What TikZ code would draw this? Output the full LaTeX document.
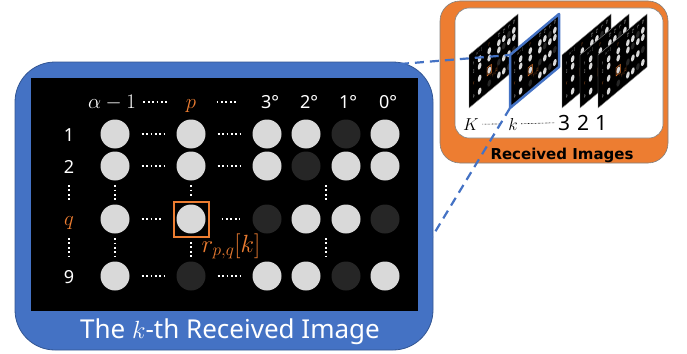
\documentclass[tikz,border=0pt]{standalone}
\usepackage{fontspec}
\setmainfont{Noto Sans}
\newfontfamily\lblfont{DejaVu Sans}
\usepackage{tikz}
\usetikzlibrary{calc}

\definecolor{kblue}{HTML}{4472C4}
\definecolor{accent}{HTML}{ED7D31}
\definecolor{dotlight}{HTML}{D9D9D9}
\definecolor{dotdark}{HTML}{262626}

% one received image, drawn in pixel coordinates of the large view
\newcommand{\gridcontent}{%
  \fill[bgrect] (31,78) rectangle (418,311);
  % column headers
  \node[mhdr] (h-a) at (112,108) {$\alpha-1$};
  \node[mhdr, text=accent] (h-p) at (191,108) {$p$};
  \node[hdr] (h-3) at (270,108) {3°};
  \node[hdr] (h-2) at (309,108) {2°};
  \node[hdr] (h-1) at (348,108) {1°};
  \node[hdr] (h-0) at (388,108) {0°};
  % row labels
  \node[hdr] (l-1) at (69,141) {1};
  \node[hdr] (l-2) at (69,173) {2};
  \node[mhdr, text=accent] (l-q) at (69,225) {$q$};
  \node[hdr] (l-9) at (69,283) {9};
  % LEDs
  \node[lit] (r1-a) at (115,134) {}; \node[lit] (r1-p) at (191,134) {};
  \node[lit] (r1-3) at (267,134) {}; \node[lit] (r1-2) at (306,134) {};
  \node[dim] (r1-1) at (346,134) {}; \node[lit] (r1-0) at (385,134) {};
  \node[lit] (r2-a) at (115,166) {}; \node[lit] (r2-p) at (191,166) {};
  \node[lit] (r2-3) at (267,166) {}; \node[dim] (r2-2) at (306,166) {};
  \node[lit] (r2-1) at (346,166) {}; \node[lit] (r2-0) at (385,166) {};
  \node[lit] (rq-a) at (115,219) {}; \node[lit] (rq-p) at (191,219) {};
  \node[dim] (rq-3) at (267,219) {}; \node[lit] (rq-2) at (306,219) {};
  \node[lit] (rq-1) at (346,219) {}; \node[dim] (rq-0) at (385,219) {};
  \node[lit] (r9-a) at (115,276) {}; \node[dim] (r9-p) at (191,276) {};
  \node[lit] (r9-3) at (267,276) {}; \node[lit] (r9-2) at (306,276) {};
  \node[dim] (r9-1) at (346,276) {}; \node[lit] (r9-0) at (385,276) {};
  \node[selbox] (sel) at (rq-p) {};
  \node[mhdr, text=accent, font=\fontsize{23}{26}\selectfont] (rpq) at (231,252) {$r_{p,q}[k]$};
  % ellipsis dots
  \draw[dotline, shorten <=4pt, shorten >=14pt] (h-a.east |- 0,102) -- (h-p.west |- 0,102);
  \draw[dotline, shorten <=17pt, shorten >=20pt] (h-p.east |- 0,102) -- (h-3.west |- 0,102);
  \draw[hdots] (r1-a) -- (r1-p); \draw[hdots] (r1-p) -- (r1-3);
  \draw[hdots] (r2-a) -- (r2-p); \draw[hdots] (r2-p) -- (r2-3);
  \draw[hdots] (rq-a) -- (sel);  \draw[hdots] (sel) -- (rq-3);
  \draw[hdots] (r9-a) -- (r9-p); \draw[hdots] (r9-p) -- (r9-3);
  \draw[vdots] (r2-a) -- (rq-a); \draw[vdots] (rq-a) -- (r9-a);
  \draw[vdots] (r2-p) -- (sel);  \draw[vdots] (sel) -- (r9-p);
  \draw[pvdots] (l-2 |- r2-a) -- (l-q |- rq-a);
  \draw[pvdots] (l-q |- rq-a) -- (l-9 |- r9-a);
  \draw[pvdots] ($(r2-2)!.5!(r2-1)$) -- ($(rq-2)!.5!(rq-1)$);
  \draw[pvdots] ($(rq-2)!.5!(rq-1)$) -- ($(r9-2)!.5!(r9-1)$);
}

% small slanted copy, bottom left corner at (#1,#2)
\newcommand{\minipanel}[3]{%
  \begin{scope}[cm={0.12661,0.10594,0,0.22747,({#1pt-3.925pt},{-#2pt+67.459pt})},
                transform shape, mini]
    \gridcontent
    #3
  \end{scope}}

\begin{document}
\begin{tikzpicture}[x=1pt, y=-1pt,
  lit/.style={circle, fill=dotlight, minimum size=29pt, inner sep=0pt},
  dim/.style={lit, fill=dotdark},
  hdr/.style={anchor=base, text=white, font=\fontsize{18}{20}\selectfont},
  mhdr/.style={hdr, font=\fontsize{22}{24}\selectfont},
  selbox/.style={draw=accent, line width=2pt, minimum size=35pt, inner sep=0pt},
  bgrect/.style={fill=black},
  dotline/.style={draw=white, line width=1.8pt, dash pattern=on 1.8pt off 2.6pt},
  hdots/.style={dotline, shorten <=12pt, shorten >=12pt},
  vdots/.style={dotline, shorten <=4.5pt, shorten >=4.5pt},
  pvdots/.style={dotline, shorten <=19pt, shorten >=18pt},
  mini/.style={dotline/.style={draw=none},
               selbox/.append style={line width=0.5pt},
               bgrect/.append style={draw=black!45, line width=0.4pt}},
  kbox/.style={rectangle, fill=kblue, draw=kblue!75!black, line width=0.8pt,
               rounded corners=40pt, minimum width=418pt, minimum height=288pt},
  obox/.style={rectangle, fill=accent, draw=black!50, line width=0.6pt,
               rounded corners=20pt, minimum width=228pt, minimum height=162pt},
  wbox/.style={rectangle, fill=white, draw=black!50, line width=0.6pt,
               rounded corners=14pt, minimum width=208pt, minimum height=130pt},
  title/.style={anchor=base, text=white, font=\fontsize{26}{30}\selectfont},
  rlabel/.style={anchor=base, font=\lblfont\fontsize{15}{18}\selectfont\bfseries},
  numlbl/.style={anchor=base, font=\fontsize{21}{24}\selectfont},
  mlbl/.style={anchor=base, font=\fontsize{19}{22}\selectfont},
  tinydots/.style={draw=black, line width=0.6pt, dash pattern=on 0.6pt off 0.8pt},
  kframe/.style={draw=kblue, line width=2.5pt, line join=round},
  zoomline/.style={draw=kblue, line width=2.2pt, dash pattern=on 9pt off 6pt}
]
\useasboundingbox (0,0) rectangle (687,353);

% k-th image, large
\node[kbox] (kimg) at (224,206) {};
\gridcontent
\node[title] (ttl) at (230,338) {The $k$-th Received Image};

% stack of received images
\node[obox] (recv) at (554,82) {};
\node[wbox] (stack) at (559,73) {};
\node[rlabel] (rtl) at (562,159) {Received Images};
\minipanel{469}{108}{}
\minipanel{510}{108}{%
  \draw[kframe] (31,78) rectangle (418,311);
  \coordinate (kTL) at (31,78);
  \coordinate (kBL) at (31,311);}
\minipanel{562}{108}{}
\minipanel{580}{108}{}
\minipanel{598}{108}{}

\node[mlbl] (n-K) at (471,130) {$K$};
\node[mlbl] (n-k) at (513,130) {$k$};
\node[numlbl] (n-3) at (564,130) {3};
\node[numlbl] (n-2) at (583,130) {2};
\node[numlbl] (n-1) at (601,130) {1};
\draw[tinydots, shorten >=5pt] (n-K) -- (n-k);
\draw[tinydots] (n-k) -- (n-3);

% zoom lines
\coordinate (zTop) at (400,64);
\coordinate (zBot) at (432,237);
\draw[zoomline] (zTop) -- (kTL);
\draw[zoomline] (kBL) -- (zBot);
\end{tikzpicture}
\end{document}
